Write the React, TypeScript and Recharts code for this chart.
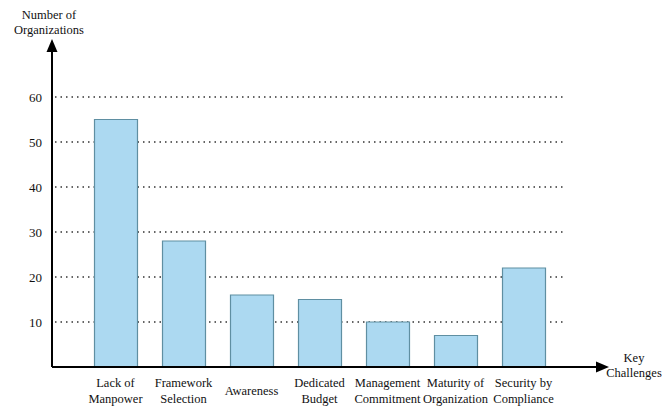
import { Bar, BarChart, CartesianGrid, XAxis, YAxis } from "recharts";

const categories = [
  "Lack of\nManpower",
  "Framework\nSelection",
  "Awareness",
  "Dedicated\nBudget",
  "Management\nCommitment",
  "Maturity of\nOrganization",
  "Security by\nCompliance",
];
const organizations = [55, 28, 16, 15, 10, 7, 22];
const yTicks = [10, 20, 30, 40, 50, 60];

const data = categories.map((name, i) => ({ name, value: organizations[i] }));

const font = "Liberation Serif, Times New Roman, Times, DejaVu Serif, serif";

const CategoryTick = (props: any) => {
  const { x, y, payload } = props;
  const lines = String(payload.value).split("\n");
  return (
    <text x={x} y={y} textAnchor="middle" fontFamily={font} fontSize={12.5} fill="#111">
      {lines.length === 1 ? (
        <tspan x={x} dy={28}>{lines[0]}</tspan>
      ) : (
        lines.map((line, i) => (
          <tspan key={i} x={x} dy={i === 0 ? 20 : 16}>
            {line}
          </tspan>
        ))
      )}
    </text>
  );
};

// dotted guide lines stop short of the arrow, like the original
const DottedGridLine = (p: any) => {
  if (p.y1 < 60) return <g key={p.key} />;
  return (
    <line
      key={p.key}
      x1={p.x1 + 3}
      x2={p.x2 - 40}
      y1={p.y1}
      y2={p.y2}
      stroke="#333"
      strokeWidth={1.5}
      strokeDasharray="1.5 4"
    />
  );
};

export default function App() {
  return (
    <div style={{ position: "absolute", left: 0, top: 0, width: 665, height: 406, background: "#fff" }}>
      <BarChart
        width={665}
        height={406}
        data={data}
        margin={{ top: 43, right: 60, left: 12, bottom: 0 }}
        barSize={43}
      >
        <CartesianGrid vertical={false} horizontal={DottedGridLine} />
        <XAxis
          dataKey="name"
          interval={0}
          height={39}
          padding={{ left: 29.5, right: 47.5 }}
          tickLine={false}
          tickSize={0}
          tickMargin={0}
          axisLine={{ stroke: "#000", strokeWidth: 2 }}
          tick={CategoryTick}
        />
        <YAxis
          width={40}
          domain={[0, 72]}
          ticks={yTicks}
          tickLine={false}
          tickSize={6}
          tickMargin={4}
          axisLine={{ stroke: "#000", strokeWidth: 2 }}
          tick={{ fontFamily: font, fontSize: 13, fill: "#111" }}
        />
        <Bar dataKey="value" fill="#acd9f1" stroke="#5f8fa2" strokeWidth={1.2} isAnimationActive={false} />
      </BarChart>
      <svg
        width={665}
        height={406}
        style={{ position: "absolute", left: 0, top: 0, pointerEvents: "none" }}
      >
        <polygon points="52,39 46.5,52 57.5,52" fill="#000" />
        <polygon points="609,367 596,361.5 596,372.5" fill="#000" />
        <text x={49} y={19} textAnchor="middle" fontFamily={font} fontSize={12.5} fill="#111">
          Number of
        </text>
        <text x={49} y={34} textAnchor="middle" fontFamily={font} fontSize={12.5} fill="#111">
          Organizations
        </text>
        <text x={634} y={362} textAnchor="middle" fontFamily={font} fontSize={12.5} fill="#111">
          Key
        </text>
        <text x={634} y={377} textAnchor="middle" fontFamily={font} fontSize={12.5} fill="#111">
          Challenges
        </text>
      </svg>
    </div>
  );
}
